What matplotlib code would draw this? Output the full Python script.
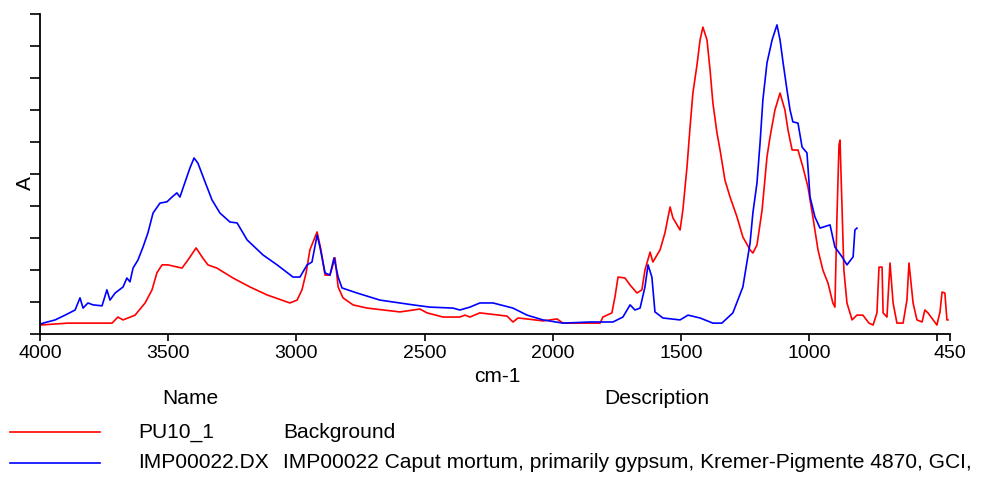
import matplotlib
matplotlib.use("Agg")
import matplotlib.pyplot as plt
from matplotlib.lines import Line2D

plt.rcParams['font.family'] = ['Liberation Sans', 'DejaVu Sans']

# Blue spectrum: IMP00022.DX
blue_wn = [4000, 3988, 3941, 3902, 3863, 3844, 3832, 3813, 3793, 3758, 3739, 3727, 3707, 3676,
           3661, 3649, 3637, 3618, 3598, 3579, 3559, 3532, 3505, 3485, 3466, 3454, 3434, 3415,
           3399, 3384, 3356, 3329, 3298, 3259, 3231, 3192, 3130, 3075, 3013, 2986, 2958, 2939,
           2919, 2908, 2888, 2869, 2853, 2837, 2822, 2763, 2674, 2545, 2479, 2389, 2362, 2323,
           2284, 2233, 2155, 2100, 2038, 1960, 1854, 1765, 1726, 1698, 1679, 1659, 1640, 1628,
           1613, 1601, 1570, 1503, 1472, 1425, 1375, 1340, 1297, 1258, 1230, 1219, 1203, 1191,
           1180, 1164, 1144, 1125, 1113, 1101, 1086, 1074, 1063, 1043, 1027, 1008, 996, 977,
           957, 918, 899, 871, 852, 828, 821, 813]
blue_a = [0.030, 0.034, 0.044, 0.059, 0.075, 0.113, 0.081, 0.097, 0.091, 0.088, 0.138, 0.106,
          0.128, 0.147, 0.175, 0.163, 0.206, 0.231, 0.272, 0.316, 0.378, 0.409, 0.413, 0.428,
          0.441, 0.428, 0.475, 0.519, 0.550, 0.534, 0.475, 0.419, 0.378, 0.350, 0.347, 0.294,
          0.247, 0.216, 0.178, 0.178, 0.216, 0.225, 0.309, 0.272, 0.191, 0.184, 0.238, 0.178,
          0.144, 0.128, 0.106, 0.091, 0.084, 0.081, 0.075, 0.084, 0.097, 0.097, 0.081, 0.059,
          0.044, 0.034, 0.0375, 0.0375, 0.053, 0.091, 0.075, 0.081, 0.147, 0.216, 0.178, 0.069,
          0.050, 0.044, 0.059, 0.050, 0.034, 0.034, 0.066, 0.147, 0.284, 0.378, 0.472, 0.597,
          0.731, 0.847, 0.919, 0.966, 0.919, 0.847, 0.763, 0.700, 0.663, 0.659, 0.584, 0.566,
          0.428, 0.366, 0.331, 0.341, 0.272, 0.241, 0.216, 0.241, 0.325, 0.331]

# Red spectrum: PU10_1
red_wn = [4000, 3891, 3719, 3696, 3676, 3629, 3590, 3563, 3544, 3524, 3501, 3446, 3423, 3391,
          3368, 3345, 3310, 3247, 3181, 3114, 3025, 2997, 2978, 2962, 2947, 2919, 2904, 2888,
          2869, 2849, 2837, 2818, 2779, 2724, 2596, 2518, 2490, 2428, 2362, 2342, 2323, 2284,
          2178, 2155, 2135, 2100, 2038, 1983, 1960, 1815, 1804, 1769, 1757, 1745, 1718, 1698,
          1671, 1652, 1640, 1620, 1609, 1581, 1562, 1542, 1531, 1503, 1492, 1476, 1464, 1453,
          1437, 1425, 1414, 1398, 1386, 1375, 1359, 1347, 1328, 1308, 1281, 1258, 1230, 1219,
          1203, 1183, 1164, 1152, 1133, 1113, 1094, 1082, 1066, 1043, 1024, 1004, 985, 965,
          946, 926, 907, 899, 891, 883, 879, 871, 864, 852, 832, 813, 790, 766, 750, 735, 727,
          715, 711, 696, 684, 672, 657, 633, 618, 610, 594, 579, 559, 548, 536, 516, 501, 489,
          481, 470, 462, 458]
red_a = [0.028, 0.034, 0.034, 0.053, 0.044, 0.059, 0.097, 0.138, 0.191, 0.216, 0.216, 0.206,
         0.231, 0.269, 0.241, 0.216, 0.206, 0.175, 0.147, 0.122, 0.097, 0.106, 0.138, 0.191,
         0.263, 0.319, 0.263, 0.184, 0.184, 0.238, 0.147, 0.113, 0.091, 0.081, 0.069, 0.078,
         0.066, 0.053, 0.053, 0.059, 0.053, 0.066, 0.056, 0.0375, 0.050, 0.047, 0.041, 0.047,
         0.034, 0.034, 0.053, 0.066, 0.116, 0.178, 0.175, 0.153, 0.128, 0.138, 0.200, 0.256,
         0.225, 0.263, 0.316, 0.397, 0.363, 0.325, 0.388, 0.522, 0.647, 0.753, 0.841, 0.919,
         0.959, 0.919, 0.825, 0.722, 0.628, 0.575, 0.481, 0.428, 0.366, 0.303, 0.263, 0.253,
         0.278, 0.388, 0.553, 0.616, 0.700, 0.753, 0.700, 0.638, 0.575, 0.575, 0.522, 0.459,
         0.366, 0.263, 0.200, 0.159, 0.097, 0.084, 0.366, 0.591, 0.606, 0.388, 0.200, 0.097,
         0.044, 0.059, 0.059, 0.034, 0.028, 0.066, 0.209, 0.209, 0.066, 0.053, 0.222, 0.097,
         0.034, 0.034, 0.106, 0.222, 0.097, 0.044, 0.0375, 0.075, 0.066, 0.044, 0.028, 0.069,
         0.131, 0.128, 0.044, 0.044]

x_ticks = [4000, 3500, 3000, 2500, 2000, 1500, 1000, 500, 450]
x_tick_labels = ['4000', '3500', '3000', '2500', '2000', '1500', '1000', '', '450']
y_ticks = [0.0, 0.1, 0.2, 0.3, 0.4, 0.5, 0.6, 0.7, 0.8, 0.9, 1.0]

legend_names = ['PU10_1', 'IMP00022.DX']
legend_desc = ['Background',
               'IMP00022 Caput mortum, primarily gypsum, Kremer-Pigmente 4870, GCI,']
colors = ['#ff0000', '#0000ff']

W, H = 995, 479
fig = plt.figure(figsize=(W / 100, H / 100), dpi=100)
ax = fig.add_axes([40 / W, 1 - 334 / H, 910 / W, 320 / H])

ax.plot(red_wn, red_a, color=colors[0], lw=1.2)
ax.plot(blue_wn, blue_a, color=colors[1], lw=1.2)

ax.set_xlim(4000, 450)
ax.set_ylim(0, 1.0)
ax.set_xticks(x_ticks)
ax.set_xticklabels(x_tick_labels, fontsize=14)
ax.set_yticks(y_ticks)
ax.set_yticklabels([])
for s in ['top', 'right']:
    ax.spines[s].set_visible(False)
for s in ['left', 'bottom']:
    ax.spines[s].set_linewidth(1.3)
ax.tick_params(axis='x', direction='out', length=5, width=1.2, pad=3)
ax.tick_params(axis='y', direction='out', length=7, width=1.2)

ax.set_xlabel('cm-1', fontsize=15, labelpad=0)
ax.xaxis.set_label_coords((497 - 40) / 910, -(376 - 334) / 320)
ax.xaxis.label.set_va('center')
ax.set_ylabel('A', fontsize=15)
ax.yaxis.set_label_coords(-(40 - 25) / 910, (334 - 183) / 320)
ax.yaxis.label.set_va('center')

# Legend table
LFS = 15.1
fig.text(190 / W, 1 - 398 / H, 'Name', fontsize=LFS, ha='center', va='center')
fig.text(657 / W, 1 - 398 / H, 'Description', fontsize=LFS, ha='center', va='center')
rows_y = [432, 463]
for yy, nm, ds, c in zip(rows_y, legend_names, legend_desc, colors):
    fig.add_artist(Line2D([10 / W, 100 / W], [1 - yy / H, 1 - yy / H], color=c, lw=1.2,
                          transform=fig.transFigure))
    fig.text(138 / W, 1 - yy / H, nm, fontsize=LFS, ha='left', va='center')
    fig.text(283 / W, 1 - yy / H, ds, fontsize=LFS, ha='left', va='center')

fig.savefig('out.png', dpi=100)
